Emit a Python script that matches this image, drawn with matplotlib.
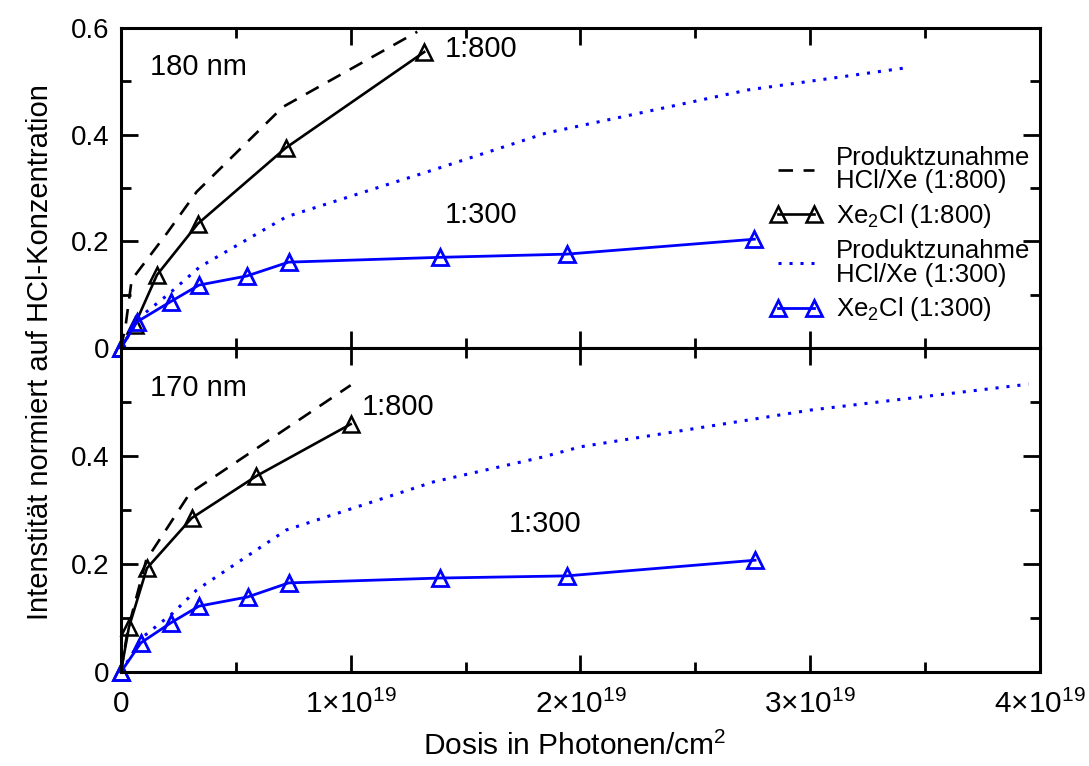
import matplotlib.pyplot as plt
import numpy as np

plt.rcParams.update({'font.family': 'Liberation Sans', 'mathtext.fontset': 'custom',
                     'mathtext.rm': 'Liberation Sans', 'mathtext.it': 'Liberation Sans',
                     'font.size': 18})

# dose in units of 1e19 photons/cm^2
# 180 nm panel
top_x800 = [0, 0.06, 0.157, 0.335, 0.717, 1.32]
top_y800 = [0, 0.043, 0.137, 0.233, 0.375, 0.555]
top_px800 = [0, 0.02, 0.047, 0.2, 0.33, 0.705, 1.29]
top_py800 = [0, 0.04, 0.128, 0.215, 0.293, 0.452, 0.593]
top_x300 = [0, 0.07, 0.217, 0.34, 0.548, 0.73, 1.387, 1.94, 2.757]
top_y300 = [0, 0.049, 0.087, 0.118, 0.135, 0.161, 0.17, 0.176, 0.204]
top_px300 = [0, 0.083, 0.213, 0.343, 0.72, 1.36, 1.85, 2.73, 3.41]
top_py300 = [0, 0.058, 0.103, 0.152, 0.246, 0.334, 0.403, 0.484, 0.525]

# 170 nm panel
bot_x800 = [0, 0.035, 0.113, 0.308, 0.59, 1.0]
bot_y800 = [0, 0.083, 0.192, 0.285, 0.363, 0.459]
bot_px800 = [0, 0.03, 0.11, 0.30, 1.0]
bot_py800 = [0, 0.078, 0.207, 0.331, 0.531]
bot_x300 = [0, 0.087, 0.217, 0.34, 0.552, 0.73, 1.387, 1.94, 2.76]
bot_y300 = [0, 0.054, 0.091, 0.122, 0.139, 0.165, 0.174, 0.178, 0.207]
bot_px300 = [0, 0.096, 0.226, 0.33, 0.72, 1.36, 1.835, 2.0, 3.0, 3.95]
bot_py300 = [0, 0.065, 0.109, 0.152, 0.263, 0.352, 0.398, 0.417, 0.485, 0.533]

xticks = [0, 1, 2, 3, 4]
xticklabels = ['0', r'$1{\times}10^{19}$', r'$2{\times}10^{19}$', r'$3{\times}10^{19}$', r'$4{\times}10^{19}$']

fig = plt.figure(figsize=(10.89, 7.66), dpi=100)
ax1 = fig.add_axes([0.111, 0.5457, 0.844, 0.4177])
ax2 = fig.add_axes([0.111, 0.1227, 0.844, 0.423])

def draw(ax, xs, label):
    x8, y8, px8, py8, x3, y3, px3, py3 = xs
    ax.plot(px8, py8, color='k', lw=1.9, dashes=(5.5, 4), label='Produktzunahme\nHCl/Xe (1:800)')
    ax.plot(x8, y8, color='k', lw=1.9, marker='^', ms=11, mfc='none', mew=1.8,
            label='Xe$_2$Cl (1:800)')
    ax.plot(px3, py3, color='b', lw=2.2, dashes=(1, 2.6), label='Produktzunahme\nHCl/Xe (1:300)')
    ax.plot(x3, y3, color='b', lw=2.0, marker='^', ms=11, mfc='none', mew=2.0,
            label='Xe$_2$Cl (1:300)')
    ax.set_xlim(0, 4)
    ax.set_ylim(0, 0.6)
    ax.set_xticks(xticks)
    ax.set_xticks([0.5, 1.5, 2.5, 3.5], minor=True)
    ax.set_yticks([0, 0.2, 0.4, 0.6])
    ax.set_yticks([0.1, 0.3, 0.5], minor=True)
    ax.tick_params(which='both', direction='in', top=True, right=True, width=2)
    ax.tick_params(which='major', length=12, labelsize=20, pad=8)
    ax.tick_params(which='minor', length=7)
    for s in ax.spines.values():
        s.set_linewidth(2.2)
    ax.text(0.032, 0.853, label, transform=ax.transAxes, fontsize=21)

draw(ax1, (top_x800, top_y800, top_px800, top_py800, top_x300, top_y300, top_px300, top_py300), '180 nm')
draw(ax2, (bot_x800, bot_y800, bot_px800, bot_py800, bot_x300, bot_y300, bot_px300, bot_py300), '170 nm')
for ln in ax1.lines + ax2.lines:
    if ln.get_marker() == '^':
        ln.set_clip_on(False)

ax1.set_yticklabels(['0', '0.2', '0.4', '0.6'])
ax1.tick_params(axis='x', labelbottom=False)
ax2.set_yticklabels(['0', '0.2', '0.4', ''])
ax2.set_xticklabels(xticklabels)
ax2.tick_params(axis='x', labelsize=21.5, pad=13)

ax1.text(1.41, 0.545, '1:800', fontsize=21)
ax1.text(1.41, 0.235, '1:300', fontsize=21)
ax2.text(1.05, 0.475, '1:800', fontsize=21)
ax2.text(1.69, 0.26, '1:300', fontsize=21)

leg = ax1.legend(loc='upper left', bbox_to_anchor=(0.707, 0.63), frameon=False, numpoints=2,
                 handlelength=2.0, handletextpad=0.55, labelspacing=0.35, fontsize=18.5,
                 borderpad=0, borderaxespad=0)
for t in leg.get_texts():
    t.set_linespacing(0.95)

fig.text(0.037, 1 - 352 / 766, 'Intenstität normiert auf HCl-Konzentration', rotation=90,
         ha='center', va='center', fontsize=21)
fig.text(0.528, 1 - 746 / 766, 'Dosis in Photonen/cm$^2$', ha='center', va='center', fontsize=21.5)

fig.savefig('out.png', dpi=100)
